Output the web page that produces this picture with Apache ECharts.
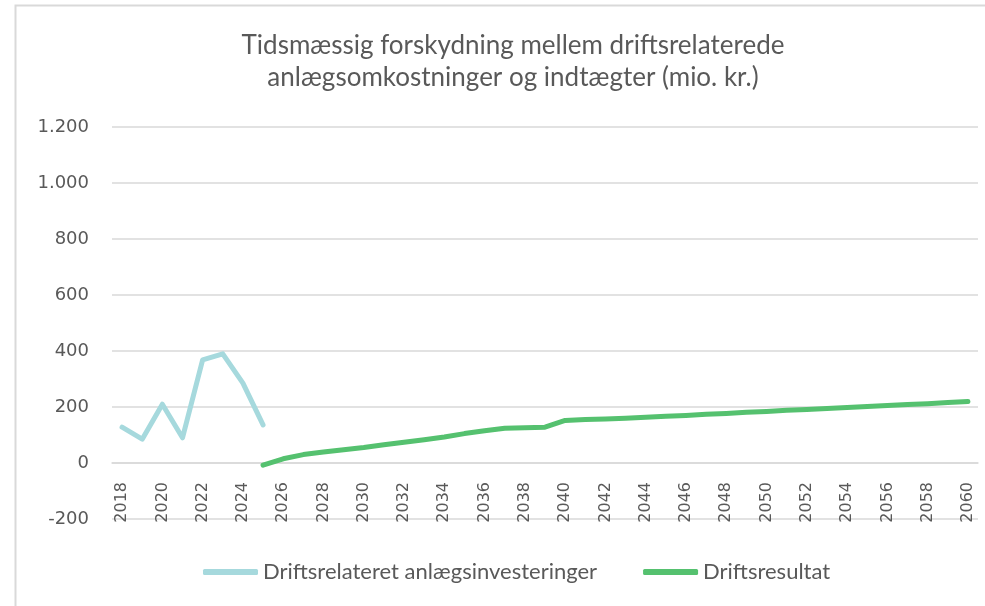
<!DOCTYPE html>
<html>
<head>
<meta charset="utf-8">
<script src="https://cdn.jsdelivr.net/npm/echarts@6/dist/echarts.min.js"></script>
<style>
html,body{margin:0;padding:0;background:#fff;}
#c{width:985px;height:606px;}
</style>
</head>
<body>
<div id="c"></div>
<script>
const years = [];
for (let y = 2018; y <= 2060; y++) years.push(String(y));

const seriesNames = ['Driftsrelateret anlægsinvesteringer', 'Driftsresultat'];

// 2018-2025
const anlaeg = [128, 85, 210, 90, 368, 390, 285, 136];
// 2025-2060
const drift = [-8, 15, 30, 39, 47, 55, 65, 74, 83, 93, 105, 115, 124, 126, 128, 152, 155, 157, 160,
  163, 167, 170, 174, 177, 181, 184, 188, 191, 195, 198, 202, 205, 209, 212, 216, 220];

const yTicks = { min: -200, max: 1200, interval: 200 };

const anlaegData = years.map((y, i) => i < anlaeg.length ? anlaeg[i] : null);
const driftStart = 2025 - 2018;
const driftData = years.map((y, i) => i >= driftStart ? drift[i - driftStart] : null);

const chart = echarts.init(document.getElementById('c'));
const txt = '#595959';
chart.setOption({
  animation: false,
  backgroundColor: '#ffffff',
  title: {
    text: 'Tidsmæssig forskydning mellem driftsrelaterede\nanlægsomkostninger og indtægter (mio. kr.)',
    left: 508,
    top: 25,
    textAlign: 'center',
    textStyle: { fontFamily: 'Lato', fontSize: 26, fontWeight: 'normal', color: txt, lineHeight: 32 }
  },
  graphic: [{
    type: 'rect',
    shape: { x: 15.5, y: 5.5, width: 1000, height: 700 },
    style: { fill: 'none', stroke: '#d9d9d9', lineWidth: 2 },
    silent: true
  }],
  legend: {
    top: 556,
    left: 198,
    itemWidth: 55,
    itemHeight: 6,
    itemGap: 46,
    icon: 'roundRect',
    textStyle: { fontFamily: 'Lato', fontSize: 22, color: txt },
    data: seriesNames
  },
  grid: { left: 112, right: 7, top: 127, bottom: 87 },
  xAxis: {
    type: 'category',
    data: years,
    boundaryGap: true,
    axisLine: { onZero: true, lineStyle: { color: '#d9d9d9', width: 1.5 } },
    axisTick: { show: false },
    axisLabel: { rotate: 90, interval: 1, margin: -37, fontFamily: 'DejaVu Sans', fontSize: 16, color: txt }
  },
  yAxis: {
    type: 'value',
    min: yTicks.min, max: yTicks.max, interval: yTicks.interval,
    axisLine: { show: false },
    axisTick: { show: false },
    splitLine: { lineStyle: { color: '#d9d9d9', width: 1.5 } },
    axisLabel: {
      margin: 23, fontFamily: 'DejaVu Sans', fontSize: 18, color: txt,
      formatter: v => v.toLocaleString('en-US').replace(/,/g, '.')
    }
  },
  series: [
    {
      name: seriesNames[0], type: 'line', data: anlaegData, showSymbol: false, symbol: 'none',
      color: '#a6d9dd', lineStyle: { width: 5, color: '#a6d9dd', cap: 'round', join: 'round' }
    },
    {
      name: seriesNames[1], type: 'line', data: driftData, showSymbol: false, symbol: 'none',
      color: '#55c16f', lineStyle: { width: 5, color: '#55c16f', cap: 'round', join: 'round' }
    }
  ]
});
</script>
</body>
</html>
